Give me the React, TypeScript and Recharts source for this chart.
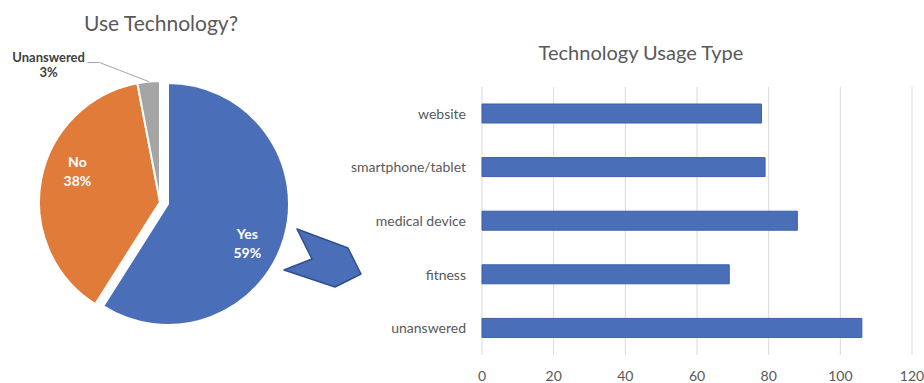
import { Bar, BarChart, CartesianGrid, Cell, Pie, PieChart, XAxis, YAxis } from "recharts";

const answerNames = ["Yes", "No", "Unanswered"];
const answerValues = [59, 38, 3];
const answerColors = ["#4a6fb8", "#e07b39", "#a5a5a5"];

const usageTypes = ["website", "smartphone/tablet", "medical device", "fitness", "unanswered"];
const usageCounts = [78, 79, 88, 69, 106];
const usageTicks = [0, 20, 40, 60, 80, 100, 120];

const FONT = "Lato, 'Open Sans', sans-serif";
const TEXT = "#595959";
const RAD = Math.PI / 180;
// excel nudges the inside labels a bit clockwise from the slice middle
const LABEL_SHIFT = 10;

const pieData = answerNames.map((name, i) => ({ name, value: answerValues[i] }));
const barData = usageTypes.map((name, i) => ({ name, count: usageCounts[i] }));

function renderLabel(show: string[]) {
  return (p: any) => {
    const { cx, cy, midAngle, outerRadius, percent, name } = p;
    if (!show.includes(name)) return <g />;
    const pct = `${Math.round(percent * 100)}%`;

    if (name === "Unanswered") {
      const ex = cx + outerRadius * Math.cos(-midAngle * RAD);
      const ey = cy + outerRadius * Math.sin(-midAngle * RAD);
      const bx = ex - 49;
      const by = ey - 19;
      return (
        <g>
          <polyline
            points={`${ex},${ey} ${bx},${by} ${bx - 12},${by}`}
            fill="none"
            stroke="#a6a6a6"
            strokeWidth={1}
          />
          <text x={bx - 51} y={by - 6} textAnchor="middle" dominantBaseline="central"
            fontFamily={FONT} fontSize={13} fontWeight={700} fill="#404040">
            {name}
          </text>
          <text x={bx - 51} y={by + 9} textAnchor="middle" dominantBaseline="central"
            fontFamily={FONT} fontSize={13} fontWeight={700} fill="#404040">
            {pct}
          </text>
        </g>
      );
    }

    const a = midAngle - LABEL_SHIFT;
    const r = outerRadius * 0.73;
    const x = cx + r * Math.cos(-a * RAD);
    const y = cy + r * Math.sin(-a * RAD);
    return (
      <g>
        <text x={x} y={y - 9.5} textAnchor="middle" dominantBaseline="central"
          fontFamily={FONT} fontSize={14} fontWeight={700} fill="#fff">
          {name}
        </text>
        <text x={x} y={y + 9.5} textAnchor="middle" dominantBaseline="central"
          fontFamily={FONT} fontSize={14} fontWeight={700} fill="#fff">
          {pct}
        </text>
      </g>
    );
  };
}

export default function App() {
  return (
    <div style={{ position: "absolute", left: 0, top: 0, width: 924, height: 383, background: "#fff", fontFamily: FONT }}>
      <div style={{ position: "absolute", left: 0, top: 0 }}>
        <PieChart width={330} height={383} margin={{ top: 0, right: 0, bottom: 0, left: 0 }}>
          {/* No + Unanswered in place */}
          <Pie
            data={pieData}
            dataKey="value"
            nameKey="name"
            cx={160}
            cy={202}
            outerRadius={121}
            startAngle={90}
            endAngle={-270}
            stroke="#fff"
            strokeWidth={2}
            label={renderLabel(["No", "Unanswered"])}
            labelLine={false}
            isAnimationActive={false}
          >
            {pieData.map((d, i) => (
              <Cell key={d.name} fill={i === 0 ? "none" : answerColors[i]} stroke={i === 0 ? "none" : "#fff"} />
            ))}
          </Pie>
          {/* Yes slice pulled out */}
          <Pie
            data={pieData}
            dataKey="value"
            nameKey="name"
            cx={168}
            cy={204}
            outerRadius={121}
            startAngle={90}
            endAngle={-270}
            stroke="#fff"
            strokeWidth={2}
            label={renderLabel(["Yes"])}
            labelLine={false}
            isAnimationActive={false}
          >
            {pieData.map((d, i) => (
              <Cell key={d.name} fill={i === 0 ? answerColors[0] : "none"} stroke={i === 0 ? "#fff" : "none"} />
            ))}
          </Pie>
        </PieChart>
      </div>

      <div style={{ position: "absolute", left: 330, top: 0 }}>
        <BarChart
          width={594}
          height={383}
          data={barData}
          layout="vertical"
          margin={{ top: 87, right: 12, bottom: 0, left: 0 }}
        >
          <CartesianGrid horizontal={false} stroke="#d9d9d9" />
          <XAxis
            type="number"
            domain={[0, 120]}
            ticks={usageTicks}
            axisLine={false}
            tickLine={false}
            height={28}
            tickMargin={10}
            tick={{ fontSize: 14, fill: TEXT, fontFamily: FONT }}
          />
          <YAxis
            type="category"
            dataKey="name"
            width={152}
            axisLine={false}
            tickLine={false}
            tickMargin={10}
            tick={{ fontSize: 14, fill: TEXT, fontFamily: FONT }}
          />
          <Bar dataKey="count" fill="#4a6fb8" stroke="#3b5fa8" strokeWidth={1} barSize={19} isAnimationActive={false} />
        </BarChart>
      </div>

      <svg width={924} height={383} style={{ position: "absolute", left: 0, top: 0, pointerEvents: "none" }}>
        <text x={161} y={31} textAnchor="middle" fontFamily={FONT} fontSize={21} fill={TEXT}>
          Use Technology?
        </text>
        <text x={641} y={60} textAnchor="middle" fontFamily={FONT} fontSize={20} fill={TEXT}>
          Technology Usage Type
        </text>
        <polygon
          points="297,229 348,248 361,274 335,287 284,270 312,259"
          fill="#4a6fb8"
          stroke="#2f4f8f"
          strokeWidth={1.5}
          strokeLinejoin="round"
        />
      </svg>
    </div>
  );
}
